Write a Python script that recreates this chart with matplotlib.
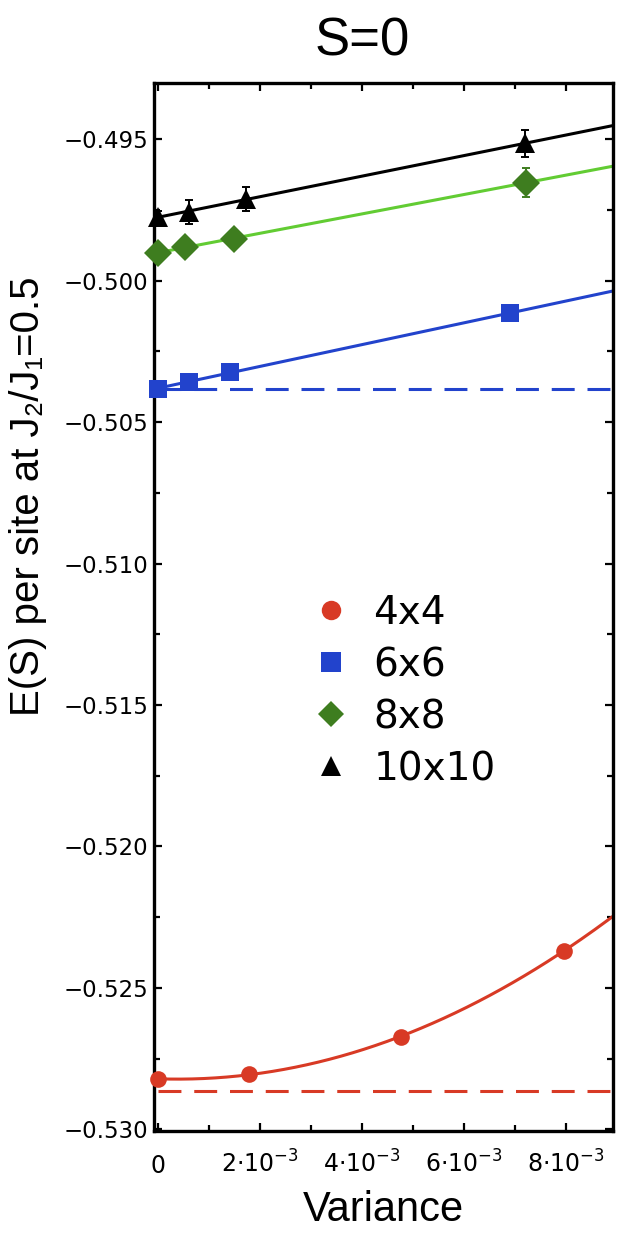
import numpy as np
import matplotlib
matplotlib.use("Agg")
import matplotlib.pyplot as plt
from matplotlib.lines import Line2D
from matplotlib.ticker import MultipleLocator

# ---------------- data ----------------
series_labels = ["4x4", "6x6", "8x8", "10x10"]

var_4x4 = [0.0, 0.00178, 0.00476, 0.00795]
e_4x4 = [-0.52822, -0.52806, -0.52672, -0.52370]
err_4x4 = [0.00012, 0.00012, 0.00012, 0.00012]

var_6x6 = [0.0, 0.000614, 0.00141, 0.0069]
e_6x6 = [-0.50383, -0.50357, -0.50321, -0.50115]
err_6x6 = [0.00012, 0.00015, 0.00015, 0.00018]

var_8x8 = [0.0, 0.00053, 0.00148, 0.00722]
e_8x8 = [-0.49901, -0.49880, -0.49853, -0.49653]
err_8x8 = [0.0002, 0.0003, 0.0003, 0.0005]

var_10x10 = [0.0, 0.000614, 0.00172, 0.0072]
e_10x10 = [-0.49774, -0.49756, -0.49712, -0.49514]
err_10x10 = [0.0002, 0.00042, 0.00042, 0.00047]

extrap_4x4 = -0.52865
extrap_6x6 = -0.50383

xtick_values = [0, 0.002, 0.004, 0.006, 0.008]
xtick_labels = ["0", r"$2{\cdot}10^{-3}$", r"$4{\cdot}10^{-3}$",
                r"$6{\cdot}10^{-3}$", r"$8{\cdot}10^{-3}$"]
ytick_values = [-0.530, -0.525, -0.520, -0.515, -0.510, -0.505, -0.500, -0.495]
ytick_labels = ["\u2212%.3f" % abs(v) for v in ytick_values]

# ---------------- style ----------------
RED = "#D83A25"
BLUE = "#2243CC"
GREEN_M = "#3E7D1F"
GREEN_L = "#62CC33"
BLACK = "#000000"

plt.rcParams["font.family"] = ["DejaVu Sans"]
W, H = 617, 1233
fig = plt.figure(figsize=(W / 100, H / 100), dpi=100)
L, R, T, B = 154, 613, 83, 1131
ax = fig.add_axes([L / W, 1 - B / H, (R - L) / W, (B - T) / H])

xmin, xmax = -0.00008, 0.00892
ymin, ymax = -0.53006, -0.49301
ax.set_xlim(xmin, xmax)
ax.set_ylim(ymin, ymax)

xs = np.linspace(0, xmax, 200)

# fits
def fit_line(x, y, deg, color):
    c = np.polyfit(x, y, deg)
    ax.plot(xs, np.polyval(c, xs), color=color, lw=2.2, zorder=2, solid_capstyle="butt")

fit_line(var_4x4, e_4x4, 2, RED)
fit_line(var_6x6, e_6x6, 1, BLUE)
fit_line(var_8x8, e_8x8, 1, GREEN_L)
fit_line(var_10x10, e_10x10, 1, BLACK)

# extrapolated dashed lines
ax.plot([0, xmax], [extrap_4x4, extrap_4x4], color=RED, lw=2.2,
        dashes=(7.5, 4.2), zorder=2)
ax.plot([0, xmax], [extrap_6x6, extrap_6x6], color=BLUE, lw=2.2,
        dashes=(7.5, 4.2), zorder=2)

# points with error bars
def pts(x, y, e, color, marker, ms):
    ax.errorbar(x, y, yerr=e, fmt="none", ecolor=color, elinewidth=1.4,
                capsize=3, capthick=1.4, zorder=3, clip_on=False)
    ax.plot(x, y, ls="none", marker=marker, color=color, markersize=ms,
            markeredgewidth=0, zorder=4, clip_on=False)

pts(var_4x4, e_4x4, err_4x4, RED, "o", 12)
pts(var_6x6, e_6x6, err_6x6, BLUE, "s", 12.5)
pts(var_8x8, e_8x8, err_8x8, GREEN_M, "D", 14)
pts(var_10x10, e_10x10, err_10x10, BLACK, "^", 14)

# ticks
ax.set_xticks(xtick_values)
ax.set_xticklabels(xtick_labels)
ax.set_yticks(ytick_values)
ax.set_yticklabels(ytick_labels)
ax.xaxis.set_minor_locator(MultipleLocator(0.001))
ax.yaxis.set_minor_locator(MultipleLocator(0.0025))
ax.tick_params(which="both", direction="in", top=True, right=True, width=1.6,
               color="black")
ax.tick_params(which="major", length=6)
ax.tick_params(which="minor", length=4)
ax.tick_params(axis="y", labelsize=16.5, pad=4)
ax.tick_params(axis="x", labelsize=17, pad=30)
for t in ax.xaxis.get_major_ticks():
    t.label1.set_verticalalignment("baseline")

for s in ax.spines.values():
    s.set_linewidth(2.4)

# labels
lab_font = ["Liberation Sans", "DejaVu Sans"]
ax.set_xlabel("Variance", fontsize=30, family=lab_font, va="baseline")
ax.xaxis.set_label_coords(0.5, (B - 1221) / (B - T))
ax.set_ylabel("E(S) per site at J\u2082/J\u2081=0.5", fontsize=29, family=lab_font,
              va="center")
ax.yaxis.set_label_coords((28 - L) / (R - L), (B - 496) / (B - T))

fig.text(362 / W, 1 - 42 / H, "S=0", fontsize=38, family=lab_font,
         ha="center", va="center")

# legend
handles = [
    Line2D([], [], ls="none", marker="o", color=RED, markersize=14, markeredgewidth=0),
    Line2D([], [], ls="none", marker="s", color=BLUE, markersize=14, markeredgewidth=0),
    Line2D([], [], ls="none", marker="D", color=GREEN_M, markersize=13.5, markeredgewidth=0),
    Line2D([], [], ls="none", marker="^", color=BLACK, markersize=15, markeredgewidth=0),
]
leg = ax.legend(handles, series_labels, loc="upper left",
                bbox_to_anchor=(315 / W, 1 - 594 / H), bbox_transform=fig.transFigure,
                frameon=False, fontsize=28, handlelength=0.8, handletextpad=0.7,
                labelspacing=0.36, borderpad=0, borderaxespad=0, numpoints=1)

fig.savefig("out.png", dpi=100)
